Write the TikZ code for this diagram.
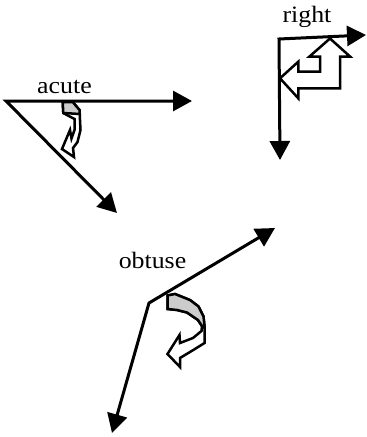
\documentclass[tikz,border=0pt]{standalone}
\usepackage{fontspec}
\newfontfamily\lblfont[FakeStretch=1.1]{Liberation Serif}
\usetikzlibrary{arrows.meta}
\colorlet{band}{black!20}
\begin{document}
\begin{tikzpicture}[x=1pt,y=-1pt]%
        \useasboundingbox (0,0) rectangle (367,437);%%
        \tikzset{legs/.style={line width=3pt,line join=miter,{Triangle[length=19pt,width=20pt]}-{Triangle[length=19pt,width=20pt]}}} %%
        \tikzset{turn/.style={draw,line width=2.5pt,line join=miter,fill=white}} %%
        \coordinate (av) at (6,101); %%
        \coordinate (ah) at (192,101); %%
        \coordinate (ad) at (117,213); %%
        \coordinate (rv) at (279,39); %%
        \coordinate (rh) at (366,35); %%
        \coordinate (rd) at (280,160); %%
        \coordinate (ov) at (149,303); %%
        \coordinate (ou) at (275,228); %%
        \coordinate (od) at (112,433); %%
        \begin{scope}[inner sep=0pt,anchor=base]
        \tikzstyle{every node}=[font=\lblfont\fontsize{23.5}{27}\selectfont] %%
        \node (tacute) at (64.5,93)  {acute}; %%
        \node (tright) at (307,22.5)  {right}; %%
        \node (tobtuse) at (152.5,268)  {obtuse}; %%
        \end{scope}
\draw[legs] (ah)--(av)--(ad); %%
\draw[legs] (rh)--(rv)--(rd); %%
\draw[legs] (ou)--(ov)--(od); %%
% turn inside the acute angle
\draw[turn] (62.7,102)--(72.7,102)--(79.5,110)--(80.5,130)--(77.5,142)--(73,148)--(74,157)--(62,149)--(70,130)--(71.5,138.5)--(74.5,130)--(74.5,119)--(66,114.5)--(63.3,113)--cycle; %%
\draw[turn,fill=band] (62.7,102)--(72.7,102)--(79.5,110)--(79.8,114)--(63.3,113)--cycle; %%
% turn inside the right angle
\draw[turn] (330,38.5)--(350,56.5)--(340,56.5)--(340,88.3)--(298.3,88.3)--(298.3,98.3)--(280,78.3)--(298.3,61.7)--(298.3,71.7)--(320,71.7)--(320,56.5)--(309.5,56.5)--cycle; %%
% turn inside the obtuse angle
\draw[turn] (167.5,295.5)--(175,294)--(190,300)--(198.5,306.5)--(203.5,316.5)--(204.5,326)--(204.5,343)--(193.3,350)--(180,358)--(180,367)--(167.5,354)--(179.5,335)--(180,343)--(193,338)--(201.5,331)--(202,326)--(198,320)--(187,312.5)--(177,310)--(167.5,309)--cycle; %%
\draw[turn,fill=band] (167.5,295.5)--(175,294)--(190,300)--(198.5,306.5)--(203.5,316.5)--(204.5,326)--(202,326)--(198,320)--(187,312.5)--(177,310)--(167.5,309)--cycle; %%
\end{tikzpicture}
\end{document}
